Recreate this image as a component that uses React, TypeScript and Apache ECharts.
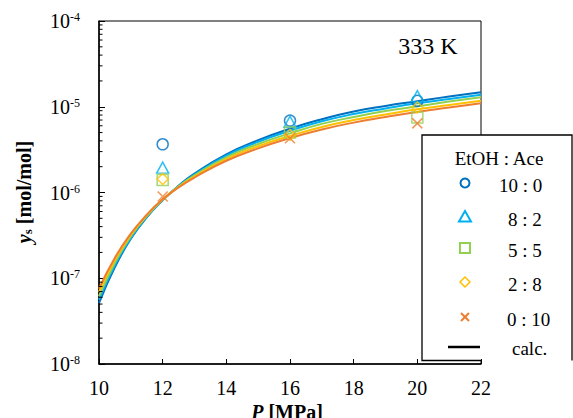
import React, { useEffect, useRef } from 'react';
import * as echarts from 'echarts';

const FONT = 'Liberation Serif';

// Pressure grid used for the calculated curves [MPa]
const pressureGrid = [10, 10.5, 11, 11.5, 12, 12.5, 13, 14, 15, 16, 17, 18, 19, 20, 21, 22];

// Calculated solubility curves (y_s, mol/mol)
const calc_10_0 = [5.13e-8, 1.349e-7, 2.884e-7, 5.13e-7, 8.13e-7, 1.202e-6, 1.66e-6, 2.786e-6, 4.074e-6, 5.559e-6, 7.161e-6, 8.81e-6, 1.023e-5, 1.161e-5, 1.318e-5, 1.479e-5];
const calc_8_2 = [5.623e-8, 1.429e-7, 2.951e-7, 5.188e-7, 8.13e-7, 1.189e-6, 1.622e-6, 2.692e-6, 3.89e-6, 5.248e-6, 6.761e-6, 8.222e-6, 9.55e-6, 1.096e-5, 1.23e-5, 1.38e-5];
const calc_5_5 = [6.166e-8, 1.514e-7, 3.09e-7, 5.309e-7, 8.222e-7, 1.175e-6, 1.585e-6, 2.57e-6, 3.673e-6, 4.898e-6, 6.31e-6, 7.586e-6, 8.913e-6, 1.012e-5, 1.148e-5, 1.288e-5];
const calc_2_8 = [6.918e-8, 1.641e-7, 3.199e-7, 5.433e-7, 8.318e-7, 1.161e-6, 1.531e-6, 2.455e-6, 3.467e-6, 4.571e-6, 5.82e-6, 6.998e-6, 8.128e-6, 9.333e-6, 1.047e-5, 1.175e-5];
const calc_0_10 = [7.586e-8, 1.738e-7, 3.311e-7, 5.495e-7, 8.318e-7, 1.148e-6, 1.496e-6, 2.344e-6, 3.273e-6, 4.315e-6, 5.433e-6, 6.531e-6, 7.586e-6, 8.71e-6, 9.772e-6, 1.096e-5];

// Experimental points
const expPressure = [12, 16, 20];
const exp_10_0 = [3.65e-6, 6.9e-6, 1.17e-5];
const exp_8_2 = [1.95e-6, 6.7e-6, 1.33e-5];
const exp_5_5 = [1.4e-6, 5.0e-6, 7.5e-6];
const exp_2_8 = [1.44e-6, 4.7e-6, 9.8e-6];
const exp_0_10 = [9.0e-7, 4.3e-6, 6.4e-6];

const compositionLabels = ['10 : 0', '8 : 2', '5 : 5', '2 : 8', '0 : 10'];
const legendTitle = 'EtOH : Ace';
const calcLabel = 'calc.';
const tempLabel = '333 K';

const xTicks = [10, 12, 14, 16, 18, 20, 22];
const yTickValues = [1e-8, 1e-7, 1e-6, 1e-5, 1e-4];
const yTickExponents = ['-8', '-7', '-6', '-5', '-4'];
const yMinorTicks = [
  2e-8, 3e-8, 4e-8, 5e-8, 6e-8, 7e-8, 8e-8, 9e-8,
  2e-7, 3e-7, 4e-7, 5e-7, 6e-7, 7e-7, 8e-7, 9e-7,
  2e-6, 3e-6, 4e-6, 5e-6, 6e-6, 7e-6, 8e-6, 9e-6,
  2e-5, 3e-5, 4e-5, 5e-5, 6e-5, 7e-5, 8e-5, 9e-5,
];

const COLORS = ['#0070C0', '#00B0F0', '#92D050', '#FFC000', '#ED7D31'];
const SYMBOLS = ['circle', 'triangle', 'rect', 'diamond', 'path://M0,0L10,10M0,10L10,0'];

export default function App() {
  const ref = useRef<HTMLDivElement>(null);

  useEffect(() => {
    document.body.style.margin = '0';
    if (!ref.current) return;
    const chart = echarts.init(ref.current, null, { renderer: 'svg' });

    const calcs = [calc_10_0, calc_8_2, calc_5_5, calc_2_8, calc_0_10];
    const exps = [exp_10_0, exp_8_2, exp_5_5, exp_2_8, exp_0_10];

    const lineSeries = calcs.map((arr, i) => ({
      type: 'line',
      name: compositionLabels[i] + ' calc',
      data: pressureGrid.map((p, j) => [p, arr[j]]),
      showSymbol: false,
      smooth: 0.5,
      lineStyle: { color: COLORS[i], width: 2 },
      itemStyle: { color: COLORS[i] },
      z: 2,
      silent: true,
    }));

    const scatterSeries = exps.map((arr, i) => ({
      type: 'scatter',
      name: compositionLabels[i],
      data: expPressure.map((p, j) => [p, arr[j]]),
      symbol: SYMBOLS[i],
      symbolSize: i === 4 ? 10 : i === 1 ? [12, 11] : 11,
      itemStyle: { color: 'rgba(0,0,0,0)', borderColor: COLORS[i], borderWidth: 1.5 },
      z: 3,
    }));

    const minorTickSeries = {
      type: 'custom',
      data: yMinorTicks.map((v) => [10, v]),
      silent: true,
      clip: false,
      z: 4,
      renderItem: (_params: any, api: any) => {
        const p = api.coord([api.value(0), api.value(1)]);
        return {
          type: 'line',
          shape: { x1: p[0], y1: p[1], x2: p[0] + 3.5, y2: p[1] },
          style: { stroke: '#000', lineWidth: 1 },
        };
      },
    };

    const lx = 465;
    const rows = [183, 217, 248, 282, 317];
    const labelX = [499, 508, 508, 508, 507];

    const txt = (text: string, x: number, y: number, size: number, align: string) => ({
      type: 'text', x, y,
      style: { text, fill: '#000', font: `${size}px "Liberation Serif"`, align, verticalAlign: 'middle', textAlign: align, textVerticalAlign: 'middle' },
    });

    const legendChildren: any[] = [
      { type: 'rect', shape: { x: 422, y: 135, width: 150, height: 225 }, style: { fill: '#fff', stroke: 'none' } },
      { type: 'polyline', shape: { points: [[482, 360.5], [422, 360.5], [422, 135], [572, 135], [572, 360.5]] }, style: { stroke: '#000', lineWidth: 1.3, fill: 'none' } },
      txt(legendTitle, 499, 158, 19, 'center'),
      { type: 'circle', shape: { cx: lx, cy: rows[0], r: 4.5 }, style: { fill: 'none', stroke: COLORS[0], lineWidth: 2 } },
      { type: 'polygon', shape: { points: [[lx, rows[1] - 6], [lx + 6, rows[1] + 4.5], [lx - 6, rows[1] + 4.5]] }, style: { fill: 'none', stroke: COLORS[1], lineWidth: 2 } },
      { type: 'rect', shape: { x: lx - 5, y: rows[2] - 5, width: 10, height: 10 }, style: { fill: 'none', stroke: COLORS[2], lineWidth: 2 } },
      { type: 'polygon', shape: { points: [[lx, rows[3] - 5], [lx + 5, rows[3]], [lx, rows[3] + 5], [lx - 5, rows[3]]] }, style: { fill: 'none', stroke: COLORS[3], lineWidth: 1.5 } },
      { type: 'line', shape: { x1: lx - 4, y1: rows[4] - 4, x2: lx + 4, y2: rows[4] + 4 }, style: { stroke: COLORS[4], lineWidth: 2 } },
      { type: 'line', shape: { x1: lx - 4, y1: rows[4] + 4, x2: lx + 4, y2: rows[4] - 4 }, style: { stroke: COLORS[4], lineWidth: 2 } },
      { type: 'line', shape: { x1: 448, y1: 347, x2: 480, y2: 347 }, style: { stroke: '#000', lineWidth: 2.5 } },
      txt(calcLabel, 512, 348, 19, 'left'),
    ];
    compositionLabels.forEach((lab, i) => {
      legendChildren.push(txt(lab, labelX[i], rows[i] + 2, 19, 'left'));
    });

    const option: any = {
      animation: false,
      backgroundColor: '#fff',
      textStyle: { fontFamily: FONT },
      grid: { left: 99, right: 92, top: 21, bottom: 54, show: true, borderColor: '#000', borderWidth: 1, backgroundColor: 'transparent' },
      xAxis: {
        type: 'value',
        min: xTicks[0],
        max: xTicks[xTicks.length - 1],
        interval: 2,
        axisLine: { show: true, onZero: false, lineStyle: { color: '#000', width: 1.5 } },
        axisTick: { show: true, inside: true, length: 5, lineStyle: { color: '#000', width: 1 } },
        axisLabel: { color: '#000', fontSize: 20, fontFamily: FONT, margin: 14 },
        splitLine: { show: false },
      },
      yAxis: {
        type: 'log',
        logBase: 10,
        min: yTickValues[0],
        max: yTickValues[yTickValues.length - 1],
        axisLine: { show: true, lineStyle: { color: '#000', width: 1.5 } },
        axisTick: { show: true, inside: true, length: 6, lineStyle: { color: '#000', width: 1 } },
        splitLine: { show: false },
        axisLabel: {
          margin: 19,
          color: '#000',
          fontFamily: FONT,
          formatter: (v: number) => {
            let idx = 0;
            let best = Infinity;
            yTickValues.forEach((t, k) => {
              const d = Math.abs(Math.log10(t) - Math.log10(v));
              if (d < best) { best = d; idx = k; }
            });
            return `{b|10}{s|${yTickExponents[idx]}}`;
          },
          rich: {
            b: { fontSize: 20, fontFamily: FONT, color: '#000' },
            s: { fontSize: 12, fontFamily: FONT, color: '#000', verticalAlign: 'top' },
          },
        },
      },
      series: [...lineSeries, ...scatterSeries, minorTickSeries],
      graphic: [
        { ...txt(tempLabel, 428, 46, 24, 'center'), z: 50 },
        {
          type: 'text', x: 24, y: 192, rotation: Math.PI / 2, z: 50,
          style: {
            text: '{i|y}{sub|s}{b| [mol/mol]}',
            align: 'center', verticalAlign: 'middle', textAlign: 'center', textVerticalAlign: 'middle',
            rich: {
              i: { fontSize: 20, fontFamily: FONT, fontWeight: 'bold', fontStyle: 'italic', fill: '#000' },
              sub: { fontSize: 13, fontFamily: FONT, fontWeight: 'bold', fill: '#000', verticalAlign: 'bottom' },
              b: { fontSize: 20, fontFamily: FONT, fontWeight: 'bold', fill: '#000' },
            },
          },
        },
        {
          type: 'text', x: 287, y: 412, z: 50,
          style: {
            text: '{i|P}{b| [MPa]}',
            align: 'center', verticalAlign: 'middle', textAlign: 'center', textVerticalAlign: 'middle',
            rich: {
              i: { fontSize: 20, fontFamily: FONT, fontWeight: 'bold', fontStyle: 'italic', fill: '#000' },
              b: { fontSize: 20, fontFamily: FONT, fontWeight: 'bold', fill: '#000' },
            },
          },
        },
        { type: 'group', z: 100, children: legendChildren },
      ],
    };

    chart.setOption(option);
    return () => chart.dispose();
  }, []);

  return <div ref={ref} style={{ width: 573, height: 418 }} />;
}
